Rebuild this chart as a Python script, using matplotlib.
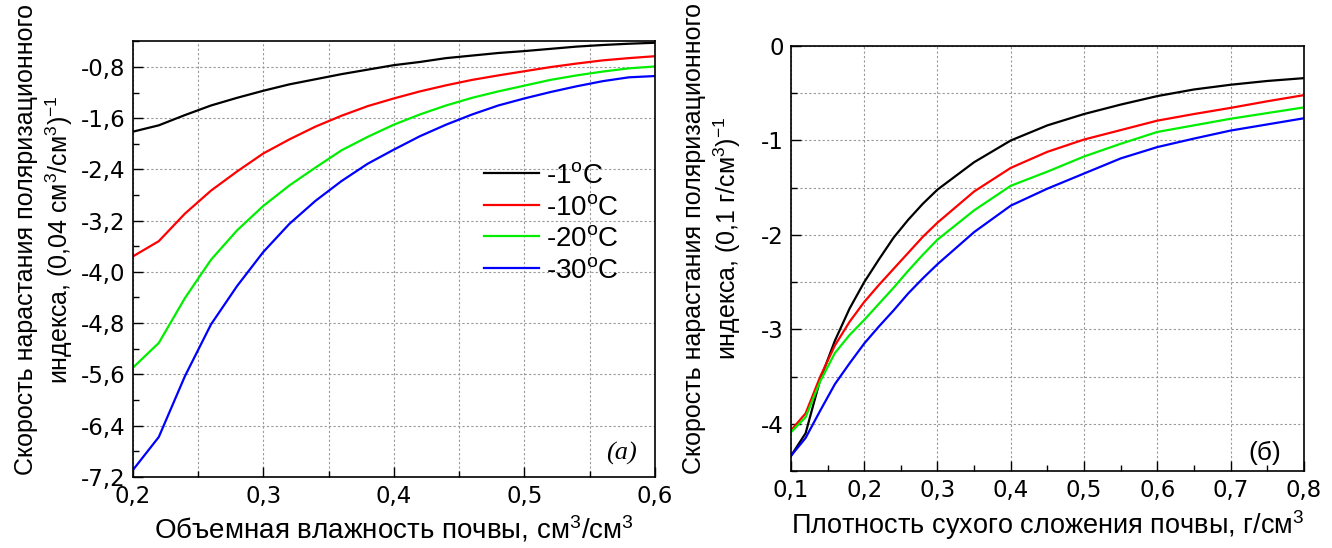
import matplotlib
matplotlib.use("Agg")
import matplotlib.pyplot as plt
from matplotlib.ticker import MultipleLocator, FuncFormatter

plt.rcParams['font.family'] = ['Liberation Sans', 'DejaVu Sans']
plt.rcParams['mathtext.fontset'] = 'custom'
plt.rcParams['mathtext.rm'] = 'Liberation Sans'
plt.rcParams['mathtext.it'] = 'Liberation Sans:italic'

# (a) volumetric soil moisture
moist = [0.20, 0.22, 0.24, 0.26, 0.28, 0.30, 0.32, 0.34, 0.36, 0.38, 0.40,
         0.42, 0.44, 0.46, 0.48, 0.50, 0.52, 0.54, 0.56, 0.58, 0.60]
a_m1 = [-1.81, -1.71, -1.55, -1.40, -1.28, -1.17, -1.07, -0.99, -0.91, -0.84, -0.77,
        -0.72, -0.66, -0.62, -0.58, -0.55, -0.515, -0.48, -0.455, -0.435, -0.42]
a_m10 = [-3.76, -3.52, -3.09, -2.73, -2.43, -2.15, -1.93, -1.73, -1.56, -1.41, -1.29,
         -1.18, -1.085, -1.00, -0.93, -0.865, -0.80, -0.745, -0.695, -0.66, -0.63]
a_m20 = [-5.50, -5.11, -4.41, -3.81, -3.35, -2.97, -2.65, -2.37, -2.10, -1.89, -1.70,
         -1.54, -1.40, -1.28, -1.18, -1.09, -1.00, -0.93, -0.87, -0.82, -0.79]
a_m30 = [-7.10, -6.58, -5.63, -4.82, -4.22, -3.69, -3.25, -2.89, -2.58, -2.31, -2.09,
         -1.88, -1.70, -1.54, -1.40, -1.29, -1.19, -1.10, -1.02, -0.96, -0.94]

# (б) dry bulk density
dens = [0.10, 0.12, 0.14, 0.16, 0.18, 0.20, 0.22, 0.24, 0.26, 0.28, 0.30,
        0.35, 0.40, 0.45, 0.50, 0.55, 0.60, 0.65, 0.70, 0.75, 0.80]
b_m1 = [-4.34, -4.10, -3.53, -3.12, -2.78, -2.50, -2.26, -2.03, -1.84, -1.67, -1.52,
        -1.23, -1.00, -0.84, -0.72, -0.62, -0.53, -0.46, -0.41, -0.37, -0.34]
b_m10 = [-4.07, -3.89, -3.50, -3.17, -2.92, -2.71, -2.53, -2.36, -2.19, -2.02, -1.87,
         -1.54, -1.29, -1.12, -0.99, -0.89, -0.79, -0.72, -0.655, -0.585, -0.52]
b_m20 = [-4.09, -3.93, -3.55, -3.25, -3.06, -2.90, -2.73, -2.56, -2.38, -2.21, -2.05,
         -1.74, -1.48, -1.33, -1.17, -1.035, -0.91, -0.84, -0.77, -0.71, -0.65]
b_m30 = [-4.34, -4.15, -3.86, -3.58, -3.36, -3.15, -2.97, -2.80, -2.62, -2.46, -2.31,
         -1.97, -1.69, -1.51, -1.35, -1.19, -1.07, -0.98, -0.895, -0.83, -0.765]

labels = ['-1$^{\\rm o}$C', '-10$^{\\rm o}$C', '-20$^{\\rm o}$C', '-30$^{\\rm o}$C']
colors = ['black', '#ff0000', '#00ee00', '#0000ff']


def fmt1(v, pos):
    return ('%.1f' % v).replace('.', ',')


def fmt0(v, pos):
    s = '%d' % round(v)
    return '0' if s == '-0' else s


def style(ax, yfmt):
    ax.tick_params(which='both', direction='in', top=False, right=False,
                   labelsize=16.5, labelfontfamily='DejaVu Sans')
    ax.tick_params(which='major', length=7, width=1)
    ax.tick_params(which='minor', length=4, width=1)
    ax.tick_params(axis='x', pad=6)
    ax.tick_params(axis='y', pad=5)
    for sp in ax.spines.values():
        sp.set_linewidth(1.2)
    ax.xaxis.set_major_formatter(FuncFormatter(fmt1))
    ax.yaxis.set_major_formatter(FuncFormatter(yfmt))


fig = plt.figure(figsize=(13.32, 5.48), dpi=100)
ax1 = fig.add_axes([0.0996, 0.1301, 0.3921, 0.7942])
ax2 = fig.add_axes([0.5938, 0.1405, 0.3851, 0.7755])

gridkw = dict(color='#999999', linestyle=(0, (2, 2)), linewidth=0.8)

# left panel
for ys, c, lab in zip([a_m1, a_m10, a_m20, a_m30], colors, labels):
    ax1.plot(moist, ys, color=c, lw=1.6, label=lab)
ax1.set_xlim(0.2, 0.6)
ax1.set_ylim(-7.2, -0.4)
ax1.xaxis.set_major_locator(MultipleLocator(0.1))
ax1.xaxis.set_minor_locator(MultipleLocator(0.05))
ax1.set_yticks([-0.8, -1.6, -2.4, -3.2, -4.0, -4.8, -5.6, -6.4, -7.2])
ax1.yaxis.set_minor_locator(MultipleLocator(0.4))
ax1.grid(True, which='major', axis='both', **gridkw)
ax1.grid(True, which='minor', axis='x', **gridkw)
style(ax1, fmt1)
ax1.set_xlabel('Объемная влажность почвы, см$^3$/см$^3$', fontsize=20, labelpad=4)
ax1.set_ylabel('Скорость нарастания поляризационного\nиндекса, (0,04 см$^3$/см$^3$)$^{-1}$',
               fontsize=18, linespacing=1.2)
ax1.yaxis.set_label_coords(-0.111, 0.544)
ax1.legend(loc='center left', bbox_to_anchor=(0.672, 0.582), frameon=False,
           fontsize=20, handlelength=2.0, labelspacing=0.2, handletextpad=0.25,
           borderpad=0, borderaxespad=0)
ax1.text(0.965, 0.054, '(a)', transform=ax1.transAxes, ha='right', va='center',
         fontsize=19, family='Liberation Serif', style='italic')

# right panel
for ys, c in zip([b_m1, b_m10, b_m20, b_m30], colors):
    ax2.plot(dens, ys, color=c, lw=1.6)
ax2.set_xlim(0.1, 0.8)
ax2.set_ylim(-4.5, 0)
ax2.xaxis.set_major_locator(MultipleLocator(0.1))
ax2.xaxis.set_minor_locator(MultipleLocator(0.05))
ax2.yaxis.set_major_locator(MultipleLocator(1))
ax2.yaxis.set_minor_locator(MultipleLocator(0.5))
ax2.grid(True, which='major', axis='both', **gridkw)
ax2.grid(True, which='minor', axis='y', **gridkw)
style(ax2, fmt0)
ax2.set_xlabel('Плотность сухого сложения почвы, г/см$^3$', fontsize=19.5, labelpad=4)
ax2.set_ylabel('Скорость нарастания поляризационного\nиндекса, (0,1 г/см$^3$)$^{-1}$',
               fontsize=18, linespacing=1.2)
ax2.yaxis.set_label_coords(-0.094, 0.548)
ax2.text(0.955, 0.042, '(б)', transform=ax2.transAxes, ha='right', va='center', fontsize=19)

fig.savefig('out.png', dpi=100)
